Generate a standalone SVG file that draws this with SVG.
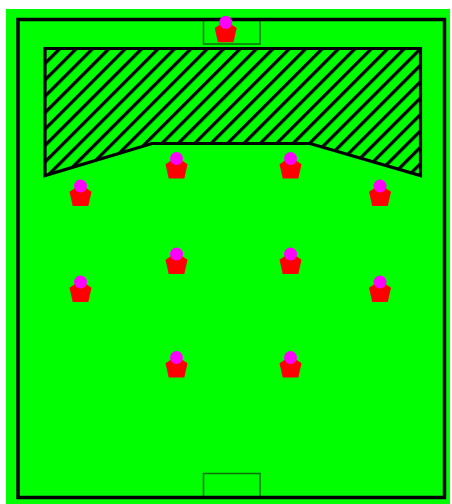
<svg xmlns="http://www.w3.org/2000/svg" width="452" height="504" viewBox="0 0 452 504">
<style>
.box{fill:none;stroke:#0a6e0a;stroke-width:1.5}
.body{fill:#f00}
.head{fill:#f0f}
.edge{fill:none;stroke:#000;stroke-width:3.5}
</style>
<defs>
<pattern id="hatch" patternUnits="userSpaceOnUse" width="16.4" height="16.4" patternTransform="translate(106.2 0) rotate(-45) scale(0.7071)">
<rect x="0" y="0" width="16.4" height="16.4" fill="#0f0"/>
<rect x="0" y="0" width="16.4" height="4.6" fill="#000"/>
</pattern>
<g id="player">
<path class="body" d="M0 -1.500L11 5.800L7.800 20H-7.800L-11 5.800Z"/>
<circle class="head" cx="0" cy="0" r="6.500"/>
</g>
</defs>
<rect x="6" y="9" width="444" height="495" fill="#0f0"/>
<g id="field">
<rect class="box" x="203.500" y="19" width="56.500" height="25"/>
<rect class="box" x="203.500" y="473.500" width="56.500" height="24"/>
<rect class="edge" x="18" y="19.500" width="426.500" height="478"/>
</g>
<path id="zone" d="M45 48.500H420.500V175.500L310 143.500H152L45 175.500Z" fill="url(#hatch)" stroke="#000" stroke-width="3.200"/>
<g id="connectors"></g>
<g id="p1"><use href="#player" x="225.700" y="22.300"/></g>
<g id="p2"><use href="#player" x="80.500" y="186"/></g>
<g id="p3"><use href="#player" x="176.500" y="158.500"/></g>
<g id="p4"><use href="#player" x="290.500" y="158.500"/></g>
<g id="p5"><use href="#player" x="380" y="186"/></g>
<g id="p6"><use href="#player" x="176.500" y="254"/></g>
<g id="p7"><use href="#player" x="290.500" y="254"/></g>
<g id="p8"><use href="#player" x="80.500" y="282"/></g>
<g id="p9"><use href="#player" x="380" y="282"/></g>
<g id="p10"><use href="#player" x="176.500" y="357.500"/></g>
<g id="p11"><use href="#player" x="290.500" y="357.500"/></g>
</svg>
